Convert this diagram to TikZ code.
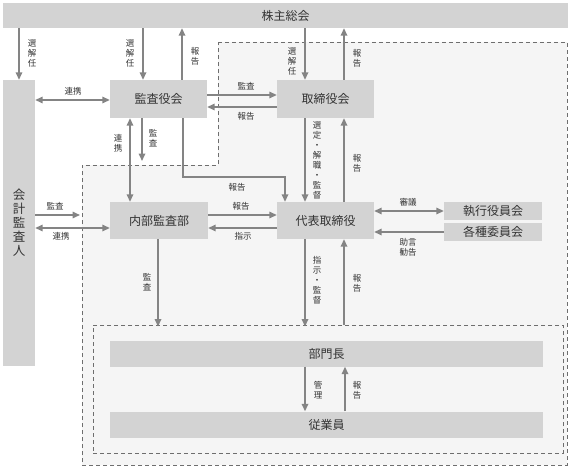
\documentclass[tikz,border=0pt]{standalone}
\usepackage{fontspec}
\setmainfont{Noto Sans CJK JP}
\usetikzlibrary{arrows.meta}
\definecolor{boxgray}{HTML}{D3D3D3}
\definecolor{linegray}{HTML}{848484}
\definecolor{zonegray}{HTML}{F5F5F5}
\definecolor{dashgray}{HTML}{6E6E6E}
\definecolor{textgray}{HTML}{333333}
\tikzset{
  >={Triangle[length=7.5pt,width=6.5pt]},
  box/.style={rectangle, fill=boxgray, text=textgray, inner sep=0,
              font=\fontsize{12}{13.5}\selectfont},
  link/.style={draw=linegray, line width=1.6pt},
  lbl/.style={text=textgray, inner sep=0, align=center,
              font=\fontsize{8.5}{10}\selectfont},
  zone/.style={draw=dashgray, fill=zonegray, line width=0.9pt,
               dash pattern=on 4pt off 3pt},
}

\begin{document}
\begin{tikzpicture}[x=1pt,y=-1pt]
    \useasboundingbox (0,0) rectangle (570,468);
    % dashed areas
    \draw[zone] (218,42) -- (567,42) -- (567,465) -- (82,465)
      -- (82,165) -- (218,165) -- cycle;
    \node[zone, minimum width=470pt, minimum height=128pt] (genba) at (328,389) {};
    \coordinate (kaikeiend) at (80,215);
    \coordinate (kansaend) at (142,161);

    % nodes
    \node[box, minimum width=565pt, minimum height=25pt] (kabunushi) at (285.5,15.5) {株主総会};
    \node[box, minimum width=32pt, minimum height=286pt,
          font=\fontsize{12.5}{14}\selectfont, align=center] (kaikei) at (19,223)
          {会\\計\\監\\査\\人};
    \node[box, minimum width=97pt, minimum height=38pt] (kansa) at (158.5,99) {監査役会};
    \node[box, minimum width=97pt, minimum height=38pt] (torishimari) at (325.5,99) {取締役会};
    \node[box, minimum width=98pt, minimum height=37pt] (naibu) at (159,220.5) {内部監査部};
    \node[box, minimum width=97pt, minimum height=37pt] (daihyo) at (325.5,220.5) {代表取締役};
    \node[box, minimum width=98pt, minimum height=18pt] (shikko) at (493,211) {執行役員会};
    \node[box, minimum width=98pt, minimum height=18pt] (kakushu) at (493,232) {各種委員会};
    \node[box, minimum width=433pt, minimum height=26pt] (bucho) at (326.5,353.5) {部門長};
    \node[box, minimum width=433pt, minimum height=26pt] (jugyoin) at (326.5,424.5) {従業員};

    % 株主総会
    \draw[link,->] (kabunushi.south -| kaikei) -- (kaikei.north);
    \node[lbl] (l1) at (32,53) {選\\解\\任};
    \draw[link,->] (kabunushi.south -| 143,0) -- (kansa.north -| 143,0);
    \node[lbl] (l2) at (130,53) {選\\解\\任};
    \draw[link,->] (kansa.north -| 182,0) -- (kabunushi.south -| 182,0);
    \node[lbl] (l3) at (195,56) {報\\告};
    \draw[link,->] (kabunushi.south -| 305,0) -- (torishimari.north -| 305,0);
    \node[lbl] (l4) at (292,61) {選\\解\\任};
    \draw[link,->] (torishimari.north -| 344,0) -- (kabunushi.south -| 344,0);
    \node[lbl] (l5) at (357,58) {報\\告};

    % 監査役会
    \draw[link,<->] (kaikei.east |- 0,100) -- (kansa.west |- 0,100);
    \node[lbl] (l6) at (73,91) {連携};
    \draw[link,->] (kansa.east |- 0,95) -- (torishimari.west |- 0,95);
    \node[lbl] (l7) at (246,86) {監査};
    \draw[link,->] (torishimari.west |- 0,107) -- (kansa.east |- 0,107);
    \node[lbl] (l8) at (246,116) {報告};
    \draw[link,<->] (kansa.south -| 130,0) -- (naibu.north -| 130,0);
    \node[lbl] (l9) at (118,143) {連\\携};
    \draw[link,->] (kansa.south -| 142,0) -- (kansaend);
    \node[lbl] (l10) at (153,138) {監\\査};
    \draw[link,->] (kansa.south -| 183,0) -- (183,177) -| (daihyo.north -| 285,0);
    \node[lbl] (l11) at (237,187) {報告};

    % 取締役会・代表取締役
    \draw[link,->] (torishimari.south -| 305,0) -- (daihyo.north -| 305,0);
    \node[lbl] (l12) at (317,160) {選\\定\\・\\解\\職\\・\\監\\督};
    \draw[link,->] (daihyo.north -| 344,0) -- (torishimari.south -| 344,0);
    \node[lbl] (l13) at (357,163) {報\\告};
    \draw[link,->] (naibu.east |- 0,215) -- (daihyo.west |- 0,215);
    \node[lbl] (l14) at (241,206) {報告};
    \draw[link,->] (daihyo.west |- 0,228) -- (naibu.east |- 0,228);
    \node[lbl] (l15) at (243,236) {指示};
    \draw[link,<->] (daihyo.east |- shikko) -- (shikko.west);
    \node[lbl] (l16) at (408,202) {審議};
    \draw[link,->] (kakushu.west) -- (daihyo.east |- kakushu);
    \node[lbl] (l17) at (408,247) {助言\\勧告};

    % 会計監査人
    \draw[link,->] (kaikei.east |- kaikeiend) -- (kaikeiend);
    \node[lbl] (l18) at (55,206) {監査};
    \draw[link,<->] (kaikei.east |- 0,228) -- (naibu.west |- 0,228);
    \node[lbl] (l19) at (61,236) {連携};

    % 現場
    \draw[link,->] (naibu.south -| 158,0) -- ([yshift=-2pt]genba.north -| 158,0);
    \node[lbl] (l20) at (147,282) {監\\査};
    \draw[link,->] (daihyo.south -| 305,0) -- ([yshift=-2pt]genba.north -| 305,0);
    \node[lbl] (l21) at (317,280) {指\\示\\・\\監\\督};
    \draw[link,->] (genba.north -| 344,0) -- (daihyo.south -| 344,0);
    \node[lbl] (l22) at (357,283) {報\\告};
    \draw[link,->] (bucho.south -| 305,0) -- (jugyoin.north -| 305,0);
    \node[lbl] (l23) at (318,390) {管\\理};
    \draw[link,->] (jugyoin.north -| 345,0) -- (bucho.south -| 345,0);
    \node[lbl] (l24) at (357,390) {報\\告};
\end{tikzpicture}
\end{document}
